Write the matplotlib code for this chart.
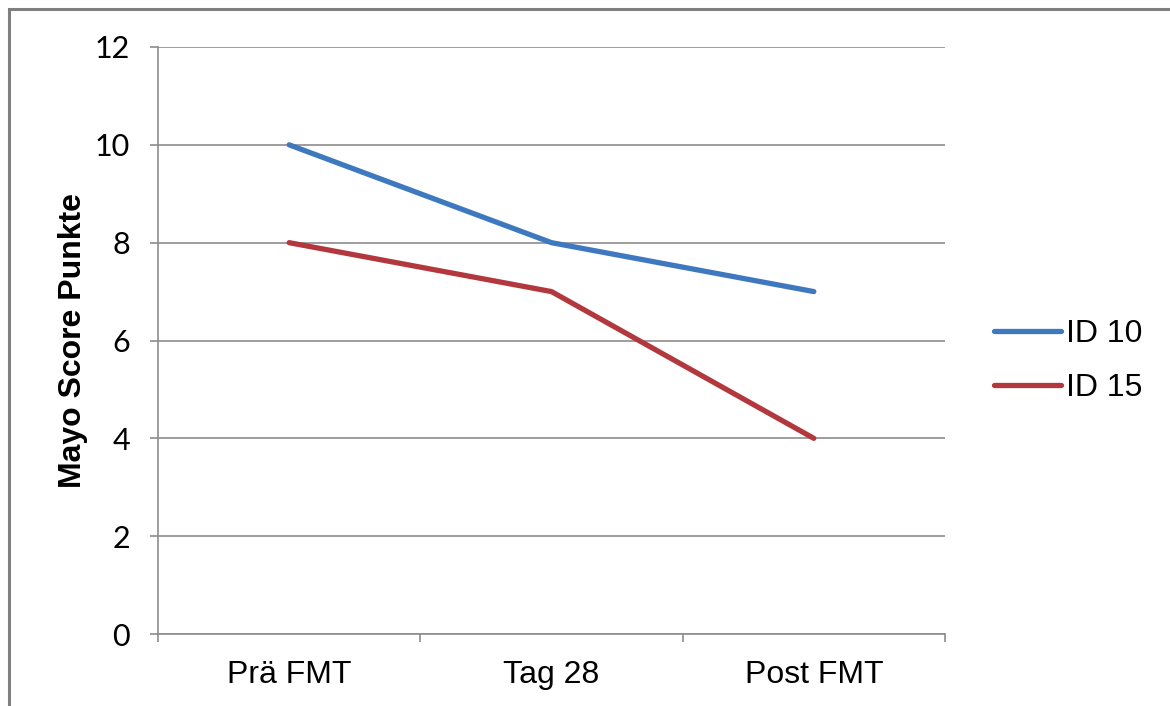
import matplotlib
matplotlib.use('Agg')
import matplotlib.pyplot as plt
from matplotlib.patches import Rectangle

# data
timepoints = ['Prä FMT', 'Tag 28', 'Post FMT']
id10 = [10, 8, 7]
id15 = [8, 7, 4]
yticks = [0, 2, 4, 6, 8, 10, 12]

blue = '#3E78BE'
red = '#B3383E'
grid_col = '#8C8C8C'

fig = plt.figure(figsize=(11.7, 7.06), dpi=100)
ax = fig.add_axes([158/1170, 1-634/706, (945-158)/1170, (634-47)/706])

# outer chart frame (only top and left edges fall inside the picture)
fig.patches.append(Rectangle((9/1170, -0.1), 1.2, 1-9/706+0.1, transform=fig.transFigure,
                             fill=False, edgecolor='#7F7F7F', lw=2.2, zorder=0))

x = list(range(len(timepoints)))
ax.plot(x, id10, color=blue, lw=3.8, solid_capstyle='round', label='ID 10', zorder=3)
ax.plot(x, id15, color=red, lw=3.8, solid_capstyle='round', label='ID 15', zorder=3)

ax.set_xlim(-0.5, len(timepoints)-0.5)
ax.set_ylim(0, 12)
ax.set_yticks(yticks)
ax.yaxis.grid(True, color=grid_col, lw=1.2)
ax.set_axisbelow(True)

# category labels between boundary ticks, like Excel
ax.set_xticks([i-0.5 for i in range(len(timepoints)+1)])
ax.set_xticklabels([])
ax.set_xticks(x, minor=True)
ax.set_xticklabels(timepoints, minor=True, fontsize=23, family='Liberation Sans')
ax.tick_params(axis='x', which='minor', length=0, pad=19)
ax.tick_params(axis='x', which='major', length=6, width=1.2, color=grid_col)
ax.tick_params(axis='y', length=6, width=1.2, color=grid_col, pad=14, labelsize=22)
for lab in ax.get_yticklabels():
    lab.set_family('Lato')

for s in ['top', 'right']:
    ax.spines[s].set_visible(False)
for s in ['left', 'bottom']:
    ax.spines[s].set_color(grid_col)
    ax.spines[s].set_linewidth(1.2)

ax.set_ylabel('Mayo Score Punkte', fontsize=23, fontweight='bold', family='Liberation Sans', labelpad=5)

fig.legend(*ax.get_legend_handles_labels(), loc='center left', bbox_to_anchor=(994/1170, 1-361/706),
           frameon=False, borderpad=0, borderaxespad=0, handlelength=2.1, handletextpad=0.15,
           labelspacing=0.76, prop={'family': 'Liberation Sans', 'size': 23})

fig.savefig('out.png', dpi=100)
